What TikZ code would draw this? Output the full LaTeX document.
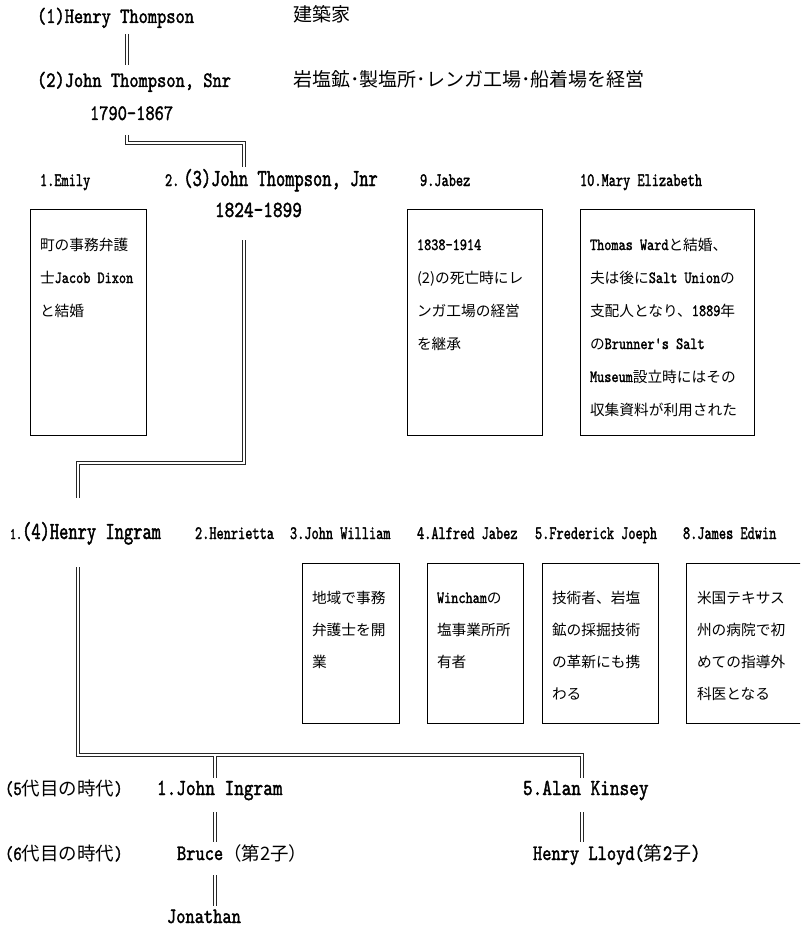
\documentclass[tikz,border=0pt]{standalone}
\usepackage{fontspec}
\newfontfamily\fA{lmmono10-regular.otf}[FakeStretch=0.8,FakeBold=1.6]
\newfontfamily\fB{lmmono10-regular.otf}[FakeStretch=0.72,FakeBold=1.6]
\newfontfamily\jp{Noto Sans CJK JP}
\newcommand\sA[1]{\fA\fontsize{#1}{#1}\selectfont}
\newcommand\sB[1]{\fB\fontsize{#1}{#1}\selectfont}
\newcommand\J[1]{{\jp #1}}
\newcommand\Jb[1]{{\jp\fontsize{14.7}{14.7}\selectfont #1}}
\tikzset{
  txt/.style={anchor=base west, inner sep=0pt, outer sep=0pt},
  boxnode/.style={draw=black, line width=1pt, anchor=north west, inner sep=0pt},
  dbl/.style={draw=black!85, line width=0.7pt, double=white, double distance=1.7pt},
}
\begin{document}
\begin{tikzpicture}[x=1pt,y=-1pt]
\useasboundingbox (0,0) rectangle (800,928);
\begin{scope}
\clip (0,0) rectangle (800,928);
% generation 1-2
\node[txt] (hT) at (37,23) {\sA{22}(1)Henry Thompson};
\node[txt] (hTn) at (293,22) {\sA{19}\J{建築家}};
\node[txt] (jS) at (37,87) {\sA{22}(2)John Thompson, Snr};
\node[txt] (jSn) at (293,87) {\sA{19}\J{岩塩鉱･製塩所･レンガ工場･船着場を経営}};
\node[txt] (jSd) at (90,120) {\sA{22}1790-1867};
\coordinate (c1a) at (127,34);
\coordinate (c1b) at (127,65);
\draw[dbl] (c1a) -- (c1b);
\coordinate (c2a) at (127,135);
\coordinate (c2b) at (244,167);
\draw[dbl] (c2a) -- ++(0,8) -| (c2b);
% generation 3 row
\node[txt] (em) at (40,186) {\sB{19}1.Emily};
\node[txt] (jJ) at (165,186) {\sB{19}2.\kern4pt\sB{24.5}(3)John Thompson, Jnr};
\node[txt] (jJd) at (215,217) {\sA{23}1824-1899};
\node[txt] (jb) at (420,186) {\sB{19}9.Jabez};
\node[txt] (me) at (580,186) {\sB{19}10.Mary Elizabeth};
\node[boxnode, minimum width=116pt, minimum height=226pt] (emB) at (30,209) {};
\node[boxnode, minimum width=135pt, minimum height=226pt] (jbB) at (407,209) {};
\node[boxnode, minimum width=174pt, minimum height=226pt] (meB) at (580,209) {};
\foreach \s [count=\i from 0] in {{\Jb{町の事務弁護}},{\Jb{士}Jacob Dixon},{\Jb{と結婚}}}
  \node[txt] (emT\i) at (40,250+33*\i) {\sA{17}\s};
\foreach \s [count=\i from 0] in {{1838-1914},{\Jb{(2)の死亡時にレ}},{\Jb{ンガ工場の経営}},{\Jb{を継承}}}
  \node[txt] (jbT\i) at (417,250+33*\i) {\sA{17}\s};
\foreach \s [count=\i from 0] in {{Thomas Ward\Jb{と結婚、}},{\Jb{夫は後に}Salt Union\Jb{の}},{\Jb{支配人となり、}1889\Jb{年}},{\Jb{の}Brunner's Salt},{Museum\Jb{設立時にはその}},{\Jb{収集資料が利用された}}}
  \node[txt] (meT\i) at (590,250+33*\i) {\sA{17}\s};
\coordinate (c3a) at (244,240);
\coordinate (c3b) at (78,498);
\draw[dbl] (c3a) -- ++(0,223) -| (c3b);
% generation 4 row
\node[txt] (hI) at (10,539) {\sB{16}1.\sB{24.5}(4)Henry Ingram};
\node[txt] (he) at (195,539) {\sB{19}2.Henrietta};
\node[txt] (jw) at (290,539) {\sB{19}3.John William};
\node[txt] (aj) at (417,539) {\sB{19}4.Alfred Jabez};
\node[txt] (fj) at (535,539) {\sB{19}5.Frederick Joeph};
\node[txt] (je) at (683,539) {\sB{19}8.James Edwin};
\node[boxnode, minimum width=97pt, minimum height=160pt] (jwB) at (302,563) {};
\node[boxnode, minimum width=96pt, minimum height=160pt] (ajB) at (427,563) {};
\node[boxnode, minimum width=116pt, minimum height=160pt] (fjB) at (542,563) {};
\node[boxnode, minimum width=130pt, minimum height=160pt] (jeB) at (686,563) {};
\foreach \s [count=\i from 0] in {{\Jb{地域で事務}},{\Jb{弁護士を開}},{\Jb{業}}}
  \node[txt] (jwT\i) at (312,603+32*\i) {\sA{17}\s};
\foreach \s [count=\i from 0] in {{Wincham\Jb{の}},{\Jb{塩事業所所}},{\Jb{有者}}}
  \node[txt] (ajT\i) at (437,603+32*\i) {\sA{17}\s};
\foreach \s [count=\i from 0] in {{\Jb{技術者、岩塩}},{\Jb{鉱の採掘技術}},{\Jb{の革新にも携}},{\Jb{わる}}}
  \node[txt] (fjT\i) at (552,603+32*\i) {\sA{17}\s};
\foreach \s [count=\i from 0] in {{\Jb{米国テキサス}},{\Jb{州の病院で初}},{\Jb{めての指導外}},{\Jb{科医となる}}}
  \node[txt] (jeT\i) at (697,603+32*\i) {\sA{17}\s};
\coordinate (c4a) at (78,567);
\coordinate (c4b) at (582,778);
\draw[dbl] (c4a) -- ++(0,188) -| (c4b);
\coordinate (c4t) at (215,755.9);
\coordinate (c4u) at (215,778);
\draw[dbl] (c4t) -- (c4u);
% generations 5-6
\node[txt] (g5) at (5,795) {\sA{20}(5\J{\fontsize{18.5}{18.5}\selectfont 代目の時代})};
\node[txt] (g6) at (5,860) {\sA{20}(6\J{\fontsize{18.5}{18.5}\selectfont 代目の時代})};
\node[txt] (jI) at (157,795) {\sA{23}1.John Ingram};
\node[txt] (ak) at (523,795) {\sA{23}5.Alan Kinsey};
\node[txt] (br) at (177,860) {\sA{22}Bruce\J{\fontsize{18.5}{18.5}\selectfont （第2子）}};
\node[txt] (hL) at (533,860) {\sA{22}Henry Lloyd(\J{\fontsize{19}{19}\selectfont 第}2\J{\fontsize{19}{19}\selectfont 子})};
\node[txt] (jo) at (167,923) {\sA{22}Jonathan};
\coordinate (c5a) at (215,812);
\coordinate (c5b) at (215,842);
\draw[dbl] (c5a) -- (c5b);
\coordinate (c6a) at (582,812);
\coordinate (c6b) at (582,842);
\draw[dbl] (c6a) -- (c6b);
\coordinate (c7a) at (215,875);
\coordinate (c7b) at (215,906);
\draw[dbl] (c7a) -- (c7b);
\end{scope}
\end{tikzpicture}
\end{document}
